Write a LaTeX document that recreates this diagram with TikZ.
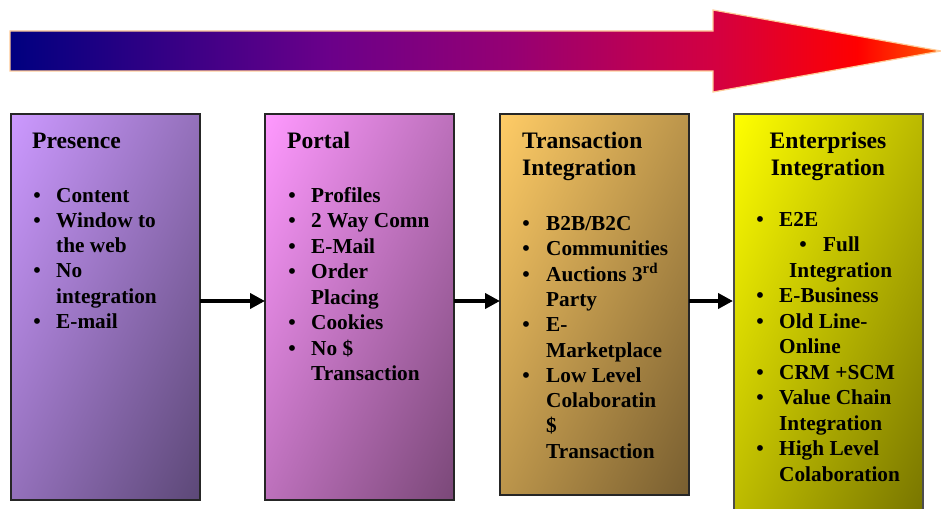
\documentclass[tikz,border=0pt]{standalone}
\usepackage{fontspec}
\setmainfont{Liberation Serif}
\usetikzlibrary{arrows.meta,shadings}

% colours of the stage boxes: light top-left, dark bottom-right
\definecolor{peach}{HTML}{FFCC99}
\definecolor{presA}{HTML}{CC99FF}\definecolor{presB}{HTML}{5C4877}
\definecolor{portA}{HTML}{FF99FF}\definecolor{portB}{HTML}{7A4878}
\definecolor{tranA}{HTML}{FFCC66}\definecolor{tranB}{HTML}{785E30}
\definecolor{entA}{HTML}{FFFF00}\definecolor{entB}{HTML}{777400}

% colour run of the long arrow (25bp..75bp spans its width)
\pgfdeclarehorizontalshading{progress}{100bp}{%
  color(0bp)=(rgb,255:red,0;green,0;blue,128);
  color(25bp)=(rgb,255:red,0;green,0;blue,128);
  color(42bp)=(rgb,255:red,106;green,0;blue,138);
  color(52bp)=(rgb,255:red,150;green,0;blue,115);
  color(63bp)=(rgb,255:red,212;green,0;blue,64);
  color(70.5bp)=(rgb,255:red,255;green,0;blue,0);
  color(75bp)=(rgb,255:red,255;green,90;blue,0);
  color(100bp)=(rgb,255:red,255;green,90;blue,0)}

\tikzset{
  stage/.style 2 args={upper left=#1, lower right=#2,
    upper right=#1!50!#2, lower left=#1!50!#2, draw=black!85},
  ttl/.style={anchor=base west, inner sep=0pt,
    font=\bfseries\fontsize{23.6}{28}\selectfont},
  ln/.style={anchor=base west, inner sep=0pt,
    font=\bfseries\fontsize{21.3}{25}\selectfont},
  dot/.style={anchor=base, inner sep=0pt,
    font=\bfseries\fontsize{21.3}{25}\selectfont},
  flow/.style={line width=4.5pt, -{Triangle[length=15pt,width=15pt]}}
}

\begin{document}
\begin{tikzpicture}[x=1pt,y=-1pt]
\useasboundingbox (0,0) rectangle (941,508);
\clip (0,0) rectangle (941,508);
\fill[white] (0,0) rectangle (941,508);

% long progress arrow
\path[shade, shading=progress, draw=peach, line width=1.2pt]
  (10,31) -- (713,31) -- (713,10) -- (941,51) -- (713,92) -- (713,71)
  -- (10,71) -- cycle;

% stage boxes
\path[stage={presA}{presB}, line width=2pt] (11,114) rectangle (200,500);
\path[stage={portA}{portB}, line width=2pt] (265,114) rectangle (454,500);
\path[stage={tranA}{tranB}, line width=2.6pt] (500,114) rectangle (689,495);
\path[stage={entA}{entB}, line width=1.4pt, draw=black!70] (734,114) rectangle (923,520);

\coordinate (p1) at (200,301);
\coordinate (p2) at (265,301);
\coordinate (q1) at (454,301);
\coordinate (q2) at (500,301);
\coordinate (r1) at (689,301);
\coordinate (r2) at (733,301);
\draw[flow] (p1) -- (p2);
\draw[flow] (q1) -- (q2);
\draw[flow] (r1) -- (r2);

% Presence
\node[ttl] (t1) at (32,148) {Presence};
\node[dot] (d1a) at (37,202) {•};
\node[ln] (l1a) at (56,202) {Content};
\node[dot] (d1b) at (37,227.3) {•};
\node[ln] (l1b) at (56,227.3) {Window to};
\node[ln] (l1c) at (56,252.6) {the web};
\node[dot] (d1d) at (37,277.9) {•};
\node[ln] (l1d) at (56,277.9) {No};
\node[ln] (l1e) at (56,303.2) {integration};
\node[dot] (d1f) at (37,328.5) {•};
\node[ln] (l1f) at (56,328.5) {E-mail};

% Portal
\node[ttl] (t2) at (287,148) {Portal};
\node[dot] (d2a) at (292,202) {•};
\node[ln] (l2a) at (311,202) {Profiles};
\node[dot] (d2b) at (292,227.5) {•};
\node[ln] (l2b) at (311,227.5) {2 Way Comn};
\node[dot] (d2c) at (292,253) {•};
\node[ln] (l2c) at (311,253) {E-Mail};
\node[dot] (d2d) at (292,278.5) {•};
\node[ln] (l2d) at (311,278.5) {Order};
\node[ln] (l2e) at (311,304) {Placing};
\node[dot] (d2f) at (292,329.5) {•};
\node[ln] (l2f) at (311,329.5) {Cookies};
\node[dot] (d2g) at (292,355) {•};
\node[ln] (l2g) at (311,355) {No \$};
\node[ln] (l2h) at (311,380.5) {Transaction};

% Transaction Integration
\node[ttl] (t3a) at (522,148) {Transaction};
\node[ttl] (t3b) at (522,175) {Integration};
\node[dot] (d3a) at (526,230.5) {•};
\node[ln] (l3a) at (546,230.5) {B2B/B2C};
\node[dot] (d3b) at (526,255.8) {•};
\node[ln] (l3b) at (546,255.8) {Communities};
\node[dot] (d3c) at (526,281.1) {•};
\node[ln] (l3c) at (546,281.1) {Auctions 3\textsuperscript{rd}};
\node[ln] (l3d) at (546,306.4) {Party};
\node[dot] (d3e) at (526,331.7) {•};
\node[ln] (l3e) at (546,331.7) {E-};
\node[ln] (l3f) at (546,357) {Marketplace};
\node[dot] (d3g) at (526,382.3) {•};
\node[ln] (l3g) at (546,382.3) {Low Level};
\node[ln] (l3h) at (546,407.6) {Colaboratin};
\node[ln] (l3i) at (546,432.9) {\$};
\node[ln] (l3j) at (546,458.2) {Transaction};

% Enterprises Integration
\node[ttl, anchor=base] (t4a) at (828,148) {Enterprises};
\node[ttl, anchor=base] (t4b) at (828,175) {Integration};
\node[dot] (d4a) at (760,226) {•};
\node[ln] (l4a) at (779,226) {E2E};
\node[dot] (d4b) at (803,251.5) {•};
\node[ln] (l4b) at (823,251.5) {Full};
\node[ln] (l4c) at (789,277) {Integration};
\node[dot] (d4d) at (760,302.5) {•};
\node[ln] (l4d) at (779,302.5) {E-Business};
\node[dot] (d4e) at (760,328) {•};
\node[ln] (l4e) at (779,328) {Old Line-};
\node[ln] (l4f) at (779,353.5) {Online};
\node[dot] (d4g) at (760,379) {•};
\node[ln] (l4g) at (779,379) {CRM +SCM};
\node[dot] (d4h) at (760,404.5) {•};
\node[ln] (l4h) at (779,404.5) {Value Chain};
\node[ln] (l4i) at (779,430) {Integration};
\node[dot] (d4j) at (760,455.5) {•};
\node[ln] (l4j) at (779,455.5) {High Level};
\node[ln] (l4k) at (779,481) {Colaboration};
\end{tikzpicture}
\end{document}
